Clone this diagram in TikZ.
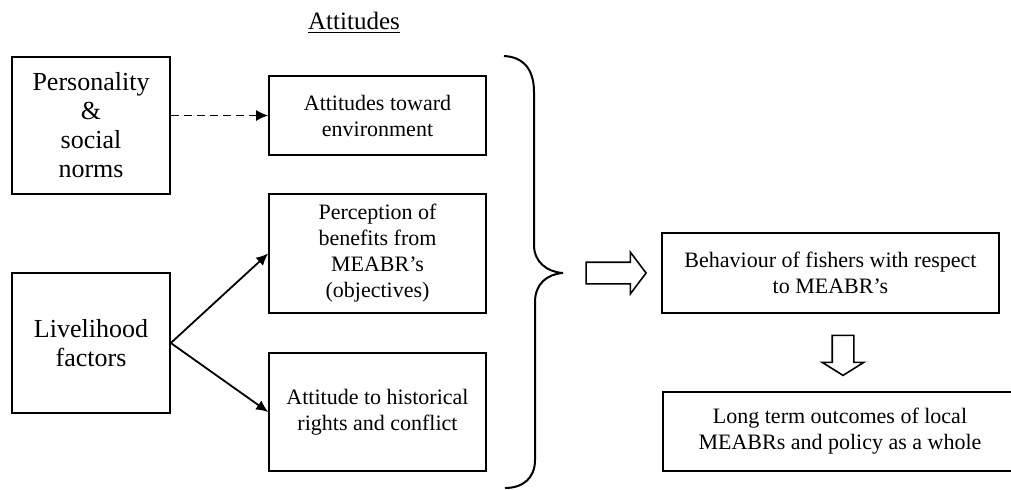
\documentclass[tikz,border=0pt]{standalone}
\usepackage{fontspec}
\setmainfont{Liberation Serif}
\usetikzlibrary{arrows.meta,shapes.arrows}

\tikzset{
	box/.style={draw,line width=0.8pt,align=center,inner sep=2pt,font=\fontsize{11}{13}\selectfont},
	bigbox/.style={box,font=\fontsize{13}{14.5}\selectfont},
	fat/.style={draw,line width=0.8pt,single arrow,single arrow head extend=5pt,inner sep=5pt},
	>={Latex[length=6pt,width=5.5pt]}
}

\begin{document}
\begin{tikzpicture}[x=0.5pt,y=-0.5pt]
			\useasboundingbox (0,0) rectangle (1011,489);
			
			\node[font=\fontsize{12.5}{14}\selectfont] (title) at (354,23) {\underline{Attitudes}};
			
			\node[bigbox,minimum width=79pt,minimum height=68.5pt]	(pers) at (91, 125.5)	{Personality\\\&\\social\\norms};
			\node[bigbox,minimum width=79pt,minimum height=70pt]	(live) at (91, 343)	{Livelihood\\factors};
			
			\node[box,minimum width=108.5pt,minimum height=39.5pt]	(env)  at (377.5, 115.5)	{Attitudes toward\\environment};
			\node[box,minimum width=108.5pt,minimum height=59.5pt]	(perc) at (377.5, 253.5)	{Perception of\\benefits from\\MEABR’s\\(objectives)};
			\node[box,minimum width=108.5pt,minimum height=59pt]	(hist) at (377.5, 412)	{Attitude to historical\\rights and conflict};
			
			\node[box,minimum width=168.5pt,minimum height=40pt]	(behav) at (830.5, 273)	{Behaviour of fishers with respect\\to MEABR’s};
			% right side of this box runs off the page
			\node[box,minimum width=177pt,minimum height=39.5pt]	(longt) at (840, 431.5)	{Long term outcomes of local\\MEABRs and policy as a whole};
			
			% brace round the attitudes
			\draw[line width=1pt] (504,56) .. controls (524,57) and (534,70) .. (534,92) -- (534,245)
				.. controls (534,262) and (547,272) .. (563,273)
				.. controls (547,274) and (535,284) .. (535,302) -- (535,460)
				.. controls (535,478) and (523,488) .. (505,488);
			
			\node[fat,minimum height=30pt,single arrow tip angle=106]	(toright) at (612, 273) {};
			\node[fat,minimum height=20pt,single arrow tip angle=116,shape border rotate=270]	(todown) at (843, 352) {};
			
			\path [->,dash pattern=on 4pt off 2.5pt,line width=0.9pt] (pers.east |- env.west) edge (env.west);
			\path [->,line width=0.9pt] (live.east) edge (perc.west);
			\path [->,line width=0.9pt] (live.east) edge (hist.west);
\end{tikzpicture}
\end{document}
